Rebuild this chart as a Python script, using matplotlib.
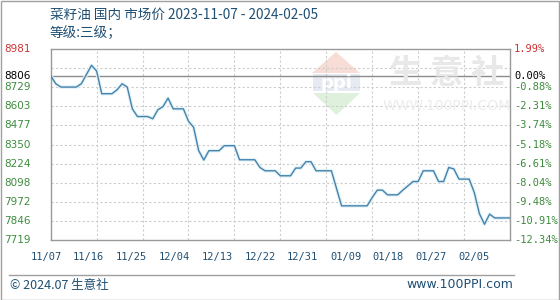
import matplotlib
matplotlib.use("Agg")
import matplotlib.pyplot as plt
from matplotlib.patches import Polygon, Rectangle
from matplotlib.transforms import blended_transform_factory
import pandas as pd

plt.rcParams['font.family'] = ['Noto Sans CJK SC', 'DejaVu Sans']

title = "菜籽油 国内 市场价 2023-11-07 - 2024-02-05"
subtitle = "等级:三级；"

dates = ["2023-11-07", "2023-11-08", "2023-11-09", "2023-11-12", "2023-11-13",
         "2023-11-15", "2023-11-16", "2023-11-17", "2023-11-19", "2023-11-20",
         "2023-11-21", "2023-11-22", "2023-11-23", "2023-11-24", "2023-11-26",
         "2023-11-27", "2023-11-28", "2023-11-29", "2023-11-30", "2023-12-01",
         "2023-12-03", "2023-12-04", "2023-12-05", "2023-12-06", "2023-12-07",
         "2023-12-08", "2023-12-10", "2023-12-11", "2023-12-13", "2023-12-14",
         "2023-12-17", "2023-12-18", "2023-12-19", "2023-12-21", "2023-12-22",
         "2023-12-24", "2023-12-25", "2023-12-26", "2023-12-27", "2023-12-28",
         "2023-12-29", "2024-01-01", "2024-01-03", "2024-01-08", "2024-01-09",
         "2024-01-10", "2024-01-11", "2024-01-12", "2024-01-14", "2024-01-15",
         "2024-01-17", "2024-01-18", "2024-01-19", "2024-01-21", "2024-01-22",
         "2024-01-23", "2024-01-24", "2024-01-25", "2024-01-26", "2024-01-28",
         "2024-01-29", "2024-01-30", "2024-01-31", "2024-02-01", "2024-02-02",
         "2024-02-05"]
prices = [8806, 8753, 8731, 8731, 8753,
          8875, 8837, 8687, 8687, 8713,
          8753, 8731, 8587, 8536, 8536,
          8521, 8581, 8602, 8658, 8587,
          8587, 8505, 8465, 8310, 8248,
          8310, 8310, 8343, 8343, 8250,
          8250, 8199, 8177, 8177, 8144,
          8144, 8195, 8195, 8237, 8237,
          8177, 8177, 7945, 7945, 8000,
          8049, 8049, 8018, 8018, 8049,
          8106, 8106, 8177, 8177, 8106,
          8106, 8199, 8189, 8122, 8122,
          8033, 7894, 7823, 7890, 7865,
          7865]

base_price = 8806
y_ticks = [8981, 8855, 8729, 8603, 8477, 8350, 8224, 8098, 7972, 7846, 7719]
y_labels = ["8981", "", "8729", "8603", "8477", "8350", "8224", "8098", "7972", "7846", "7719"]
pct_labels = ["1.99%", "", "-0.88%", "-2.31%", "-3.74%", "-5.18%", "-6.61%",
              "-8.04%", "-9.48%", "-10.91%", "-12.34%"]
x_labels = ["11/07", "11/16", "11/25", "12/04", "12/13", "12/22", "12/31",
            "01/09", "01/18", "01/27", "02/05"]

W, H = 560, 300
fig = plt.figure(figsize=(W / 100, H / 100), dpi=100)
fig.patch.set_facecolor("white")

def fx(px):
    return px / W

def fy(py):
    return 1 - py / H

tf = fig.transFigure

# outer border
fig.add_artist(Rectangle((0.5 / W, 0.5 / H), 1 - 1.5 / W, 1 - 1.5 / H, transform=tf,
                         fill=False, edgecolor="#a0a0a0", lw=1))

ax = fig.add_axes([fx(50.7), fy(240), (510 - 50.7) / W, (240 - 49.3) / H])
ax.patch.set_alpha(0)

x = pd.to_datetime(dates)
ax.set_xlim(x[0], x[-1])
ax.set_ylim(y_ticks[-1], y_ticks[0])

# watermark (logo + text)
fig.add_artist(Polygon([(fx(312), fy(73)), (fx(336), fy(52)), (fx(360), fy(73))], closed=True,
                       transform=tf, facecolor="#f7ddd6", edgecolor="none", zorder=0))
fig.add_artist(Rectangle((fx(313), fy(91)), fx(47), 17 / H, transform=tf,
                         facecolor="#e6ebf3", edgecolor="none", zorder=0))
fig.text(fx(336.5), fy(82.5), "ppi", transform=tf, ha="center", va="center",
         fontsize=13, color="white", fontweight="bold", family="DejaVu Sans", zorder=0)
fig.add_artist(Polygon([(fx(313), fy(93)), (fx(360), fy(93)), (fx(336.5), fy(115))], closed=True,
                       transform=tf, facecolor="#dff0dc", edgecolor="none", zorder=0))
fig.text(fx(447), fy(73), "生 意 社", transform=tf, ha="center", va="center",
         fontsize=24, color="#e8e8e8", fontweight="bold", zorder=0)
fig.text(fx(447), fy(106), "WWW.100PPI.COM", transform=tf, ha="center", va="center",
         fontsize=10, color="#ececec", family="DejaVu Sans", zorder=0)

# grid
for v in y_ticks[1:-1]:
    ax.axhline(v, color="#cccccc", lw=0.8, ls=(0, (2, 2)), zorder=1)
for i in range(1, 10):
    ax.axvline(x[0] + (x[-1] - x[0]) * i / 10, color="#cccccc", lw=0.8, ls=(0, (2, 2)), zorder=1)
ax.axhline(base_price, color="#8c8c8c", lw=1.0, zorder=2)

ax.plot(x, prices, color="#e2f2f8", lw=2.6, zorder=2, solid_joinstyle="round")
ax.plot(x, prices, color="#4582aa", lw=1.0, zorder=3)

for s in ax.spines.values():
    s.set_color("#999999")
    s.set_linewidth(1.0)
ax.set_xticks([])
ax.set_yticks([])

# y labels (left and right)
bl = blended_transform_factory(fig.transFigure, ax.transData)
green = "#3d8b3d"
for v, lab, pl in zip(y_ticks, y_labels, pct_labels):
    c = "#cc3333" if v == y_ticks[0] else green
    if lab:
        fig.text(fx(4), v, lab, transform=bl, ha="left", va="center", fontsize=7.5,
                 color=c, family="DejaVu Sans")
    if pl:
        fig.text(fx(514), v, pl, transform=bl, ha="left", va="center", fontsize=7.5,
                 color=c, family="DejaVu Sans Mono")
fig.text(fx(4), base_price, str(base_price), transform=bl, ha="left", va="center",
         fontsize=7.5, color="black", family="DejaVu Sans")
fig.text(fx(514), base_price, "0.00%", transform=bl, ha="left", va="center",
         fontsize=7.5, color="black", family="DejaVu Sans Mono")

# x labels
for i, lab in enumerate(x_labels):
    fig.text(fx(46 + 42.8 * i), fy(257), lab, ha="center", va="center", fontsize=7.5,
             color="#1f4f73", family="DejaVu Sans Mono")

# titles
fig.text(fx(50), fy(15), title, ha="left", va="center", fontsize=9.8, color="#1f4f73")
fig.text(fx(50), fy(33), subtitle, ha="left", va="center", fontsize=9.8, color="#1f4f73")

# footer
fig.add_artist(plt.Line2D([fx(9), fx(514)], [fy(275), fy(275)], transform=tf,
                          color="#a0a0a0", lw=1))
fig.text(fx(10), fy(285), "© 2024.07 生意社", ha="left", va="center", fontsize=9,
         color="#1f4f73")
fig.text(fx(513), fy(285), "www.100PPI.com", ha="right", va="center", fontsize=9,
         color="#1f4f73", family="DejaVu Sans")

fig.savefig("out.png", dpi=100)
